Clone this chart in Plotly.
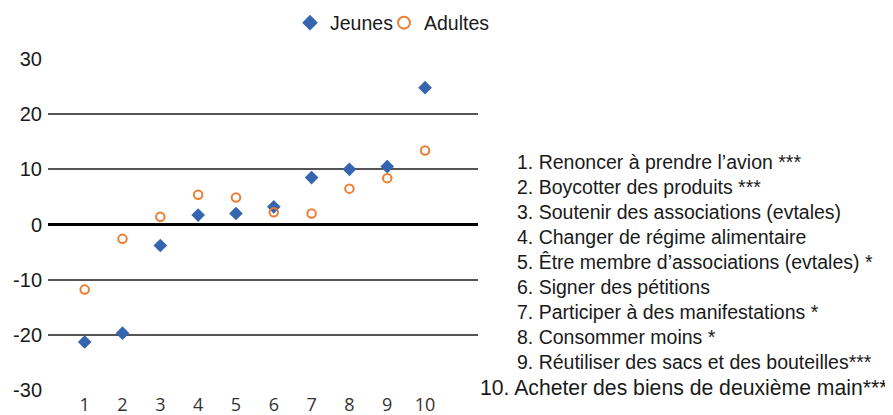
import plotly.graph_objects as go

# ---- data ----
categories = [1, 2, 3, 4, 5, 6, 7, 8, 9, 10]
jeunes = [-21.3, -19.7, -3.8, 1.7, 2.0, 3.2, 8.5, 10.0, 10.5, 24.8]
adultes = [-11.8, -2.6, 1.4, 5.4, 4.9, 2.2, 2.0, 6.5, 8.4, 13.4]
item_labels = [
    "1. Renoncer à prendre l\u2019avion ***",
    "2. Boycotter des produits ***",
    "3. Soutenir des associations (evtales)",
    "4. Changer de régime alimentaire",
    "5. Être membre d\u2019associations (evtales) *",
    "6. Signer des pétitions",
    "7. Participer à des manifestations *",
    "8. Consommer moins *",
    "9. Réutiliser des sacs et des bouteilles***",
    "10. Acheter des biens de deuxième main***",
]
y_ticks = [-30, -20, -10, 0, 10, 20, 30]
y_ticktext = ["-30", "-20", "-10", "0", "10", "20", "30"]

# ---- layout geometry (pixels, page coordinates) ----
OFF = 8  # default body margin of the html page
PAGE_W, PAGE_H = 893, 415
W, H = PAGE_W - OFF, PAGE_H - OFF
PLOT_L, PLOT_R, PLOT_T, PLOT_B = 48, 478, 59, 390  # page px
ML = PLOT_L - OFF
MT = PLOT_T - OFF
MR = W - (PLOT_R - OFF)
MB = H - (PLOT_B - OFF)
PW = W - ML - MR
PH = H - MT - MB

def px_to_paper_x(px):
    return (px - OFF - ML) / PW

def px_to_paper_y(py):
    return (H - MB - (py - OFF)) / PH

FONT = "Liberation Sans, Arial, Helvetica, sans-serif"
TXT = "#1a1a1a"

fig = go.Figure()
fig.add_trace(go.Scatter(
    x=categories, y=jeunes, mode="markers", name="Jeunes",
    marker=dict(symbol="diamond", size=10.5, color="#3465AE",
                line=dict(width=0)),
    legend="legend",
))
fig.add_trace(go.Scatter(
    x=categories, y=adultes, mode="markers", name="Adultes",
    marker=dict(symbol="circle-open", size=8.5, color="#ED7D31",
                line=dict(width=2, color="#ED7D31")),
    legend="legend2",
))

annotations = []
line_top = 162
line_gap = 25
for i, lab in enumerate(item_labels):
    py = line_top + i * line_gap
    xpx = 515 if i < 9 else 478
    annotations.append(dict(
        text=lab, xref="paper", yref="paper",
        x=px_to_paper_x(xpx), y=px_to_paper_y(py),
        xanchor="left", yanchor="middle", showarrow=False,
        font=dict(family=FONT, size=19.5 if i < 9 else 21.2, color=TXT),
    ))

legend_common = dict(
    orientation="h", xanchor="left", yanchor="middle",
    y=px_to_paper_y(23),
    font=dict(family=FONT, size=19.5, color=TXT),
    itemwidth=30, itemsizing="constant", bgcolor="rgba(0,0,0,0)",
)

fig.update_layout(
    width=W, height=H,
    margin=dict(l=ML, r=MR, t=MT, b=MB, autoexpand=False),
    paper_bgcolor="white", plot_bgcolor="white",
    font=dict(family=FONT, size=20, color=TXT),
    showlegend=True,
    legend=dict(x=px_to_paper_x(290), **legend_common),
    legend2=dict(x=px_to_paper_x(384), **legend_common),
    xaxis=dict(
        range=[0.03, 11.4], tickmode="array", tickvals=categories,
        ticktext=[str(c) for c in categories],
        showgrid=False, zeroline=False, showline=False, ticks="",
        tickfont=dict(family="Open Sans, sans-serif", size=18, color="#333333"),
        ticklabelstandoff=2,
    ),
    yaxis=dict(
        range=[-30, 30], tickmode="array", tickvals=y_ticks,
        ticktext=y_ticktext,
        showgrid=True, gridcolor="#555555", gridwidth=1.5,
        zeroline=True, zerolinecolor="#000000", zerolinewidth=2.5,
        showline=False, ticks="",
        tickfont=dict(family=FONT, size=20, color=TXT),
        ticklabelstandoff=5,
    ),
    annotations=annotations,
)

fig.write_html("out.html")
